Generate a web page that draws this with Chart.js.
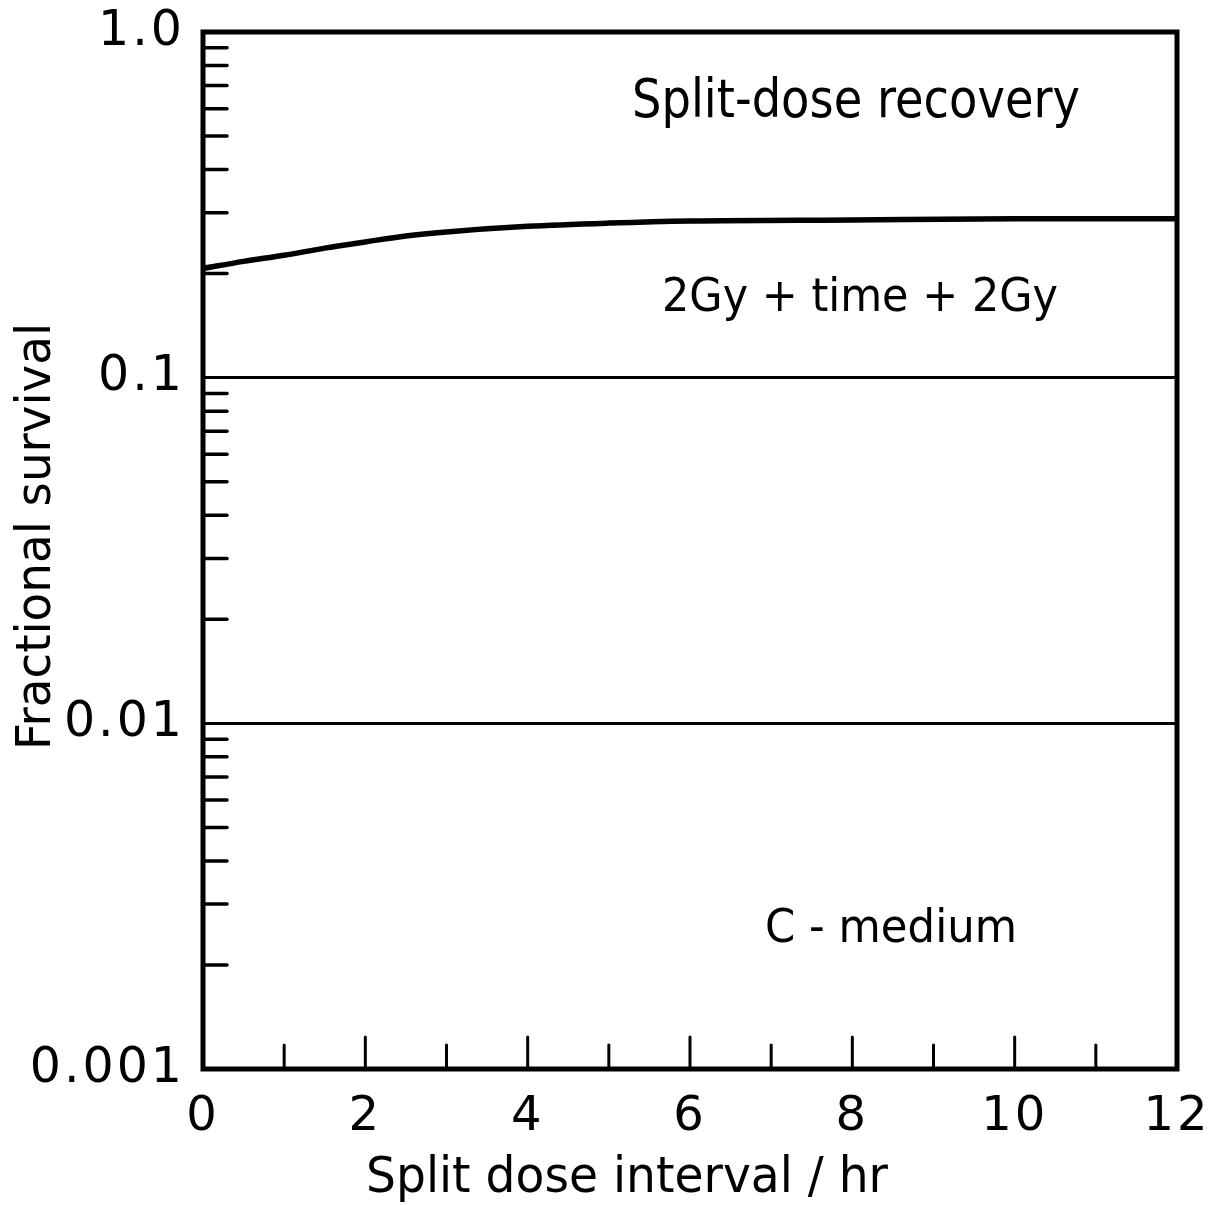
<!DOCTYPE html>
<html>
<head>
<meta charset="utf-8">
<script src="https://cdn.jsdelivr.net/npm/chart.js@4.4.1/dist/chart.umd.min.js"></script>
<style>
  html, body { margin: 0; padding: 0; background: #fff; }
</style>
</head>
<body>
<canvas id="grafico" width="1217" height="1205"></canvas>
<script>
// datos
const horas = [0, 0.5, 1, 1.5, 2, 2.5, 3, 4, 5, 6, 8, 10, 12];
const supervivencia = [0.207, 0.217, 0.226, 0.237, 0.247, 0.257, 0.264, 0.274, 0.280, 0.284, 0.286, 0.288, 0.288];

const xTicks = [0, 1, 2, 3, 4, 5, 6, 7, 8, 9, 10, 11, 12];
const xLabels = ['0', '', '2', '', '4', '', '6', '', '8', '', '10', '', '12'];

const yTicks = [0.001, 0.002, 0.003, 0.004, 0.005, 0.006, 0.007, 0.008, 0.009,
                0.01, 0.02, 0.03, 0.04, 0.05, 0.06, 0.07, 0.08, 0.09,
                0.1, 0.2, 0.3, 0.4, 0.5, 0.6, 0.7, 0.8, 0.9, 1];
const yDecades = [0.001, 0.01, 0.1, 1];
const yLabels = ['0.001', '0.01', '0.1', '1.0'];
const yGridLines = [0.01, 0.1];

const FUENTE = '"DejaVu Sans", sans-serif';

// texto ajustado a un ancho dado
function texto(ctx, str, left, right, baseline, size) {
    ctx.font = size + 'px ' + FUENTE;
    ctx.textAlign = 'left';
    ctx.textBaseline = 'alphabetic';
    ctx.letterSpacing = '0px';
    const target = right - left;
    const w = ctx.measureText(str).width;
    if (w < target) {
        ctx.letterSpacing = ((target - w) / (str.length - 1)) + 'px';
        ctx.fillText(str, left, baseline);
    } else {
        ctx.fillText(str, left, baseline, target);
    }
    ctx.letterSpacing = '0px';
}

// sin relleno extra por las etiquetas en los bordes
function sinPadding(s) {
    s.paddingTop = 0;
    s.paddingBottom = 0;
    s.paddingLeft = 0;
    s.paddingRight = 0;
}

const marco = {
    id: 'marco',
    beforeDraw(chart) {
        chart.ctx.letterSpacing = '3px';
    },
    afterDraw(chart) {
        const { ctx, chartArea: a, scales: { x, y } } = chart;
        ctx.letterSpacing = '0px';
        ctx.save();
        ctx.strokeStyle = '#000';
        ctx.fillStyle = '#000';

        // marcas menores del eje y (hacia dentro)
        ctx.lineWidth = 3.5;
        ctx.lineCap = 'round';
        yTicks.forEach(v => {
            if (yDecades.includes(v)) return;
            const py = y.getPixelForValue(v);
            ctx.beginPath();
            ctx.moveTo(a.left, py);
            ctx.lineTo(a.left + 24, py);
            ctx.stroke();
        });

        // marcas del eje x (hacia arriba)
        ctx.lineWidth = 3;
        xTicks.forEach(v => {
            if (v === xTicks[0] || v === xTicks[xTicks.length - 1]) return;
            const px = x.getPixelForValue(v);
            const largo = v % 2 === 0 ? 32 : 24;
            ctx.beginPath();
            ctx.moveTo(px, a.bottom);
            ctx.lineTo(px, a.bottom - largo);
            ctx.stroke();
        });

        // recuadro
        ctx.lineCap = 'butt';
        ctx.lineWidth = 5;
        ctx.strokeRect(a.left, a.top, a.right - a.left, a.bottom - a.top);

        // anotaciones
        texto(ctx, 'Split-dose recovery', 632, 1080, 117, 54);
        texto(ctx, '2Gy + time + 2Gy', 662, 1058, 311, 46);
        texto(ctx, 'C - medium', 765, 1017, 942, 46);

        // títulos de los ejes
        texto(ctx, 'Split dose interval / hr', 366, 888, 1192, 50);
        ctx.save();
        ctx.translate(50, 750);
        ctx.rotate(-Math.PI / 2);
        texto(ctx, 'Fractional survival', 0, 427, 0, 48);
        ctx.restore();

        ctx.restore();
    }
};

const ctx = document.getElementById('grafico').getContext('2d');

new Chart(ctx, {
    type: 'line',
    data: {
        datasets: [{
            label: '2Gy + time + 2Gy',
            data: horas.map((h, i) => ({ x: h, y: supervivencia[i] })),
            borderColor: '#000',
            borderWidth: 5.5,
            pointRadius: 0,
            fill: false,
            cubicInterpolationMode: 'monotone'
        }]
    },
    options: {
        responsive: false,
        animation: false,
        layout: { padding: { top: 32, right: 40, left: 0, bottom: 0 } },
        plugins: {
            legend: { display: false },
            tooltip: { enabled: false }
        },
        scales: {
            x: {
                type: 'linear',
                min: 0,
                max: 12,
                afterBuildTicks: s => { s.ticks = xTicks.map(v => ({ value: v })); },
                afterFit: s => { s.height = 136; sinPadding(s); },
                border: { display: false },
                grid: { display: false, drawTicks: false },
                ticks: {
                    autoSkip: false,
                    maxRotation: 0,
                    padding: 20,
                    color: '#000',
                    font: { family: FUENTE, size: 48 },
                    callback: v => {
                        const i = xTicks.indexOf(v);
                        return i >= 0 ? xLabels[i] : '';
                    }
                }
            },
            y: {
                type: 'logarithmic',
                min: 0.001,
                max: 1,
                afterBuildTicks: s => { s.ticks = yTicks.map(v => ({ value: v })); },
                afterFit: s => { s.width = 203; sinPadding(s); },
                border: { display: false },
                grid: {
                    drawTicks: false,
                    lineWidth: 3,
                    color: c => (c.tick && yGridLines.includes(c.tick.value)) ? '#000' : 'rgba(0,0,0,0)'
                },
                ticks: {
                    autoSkip: false,
                    padding: 18,
                    color: '#000',
                    font: { family: FUENTE, size: 49 },
                    callback: v => {
                        const i = yDecades.indexOf(v);
                        return i >= 0 ? yLabels[i] : '';
                    }
                }
            }
        }
    },
    plugins: [marco]
});
</script>
</body>
</html>
